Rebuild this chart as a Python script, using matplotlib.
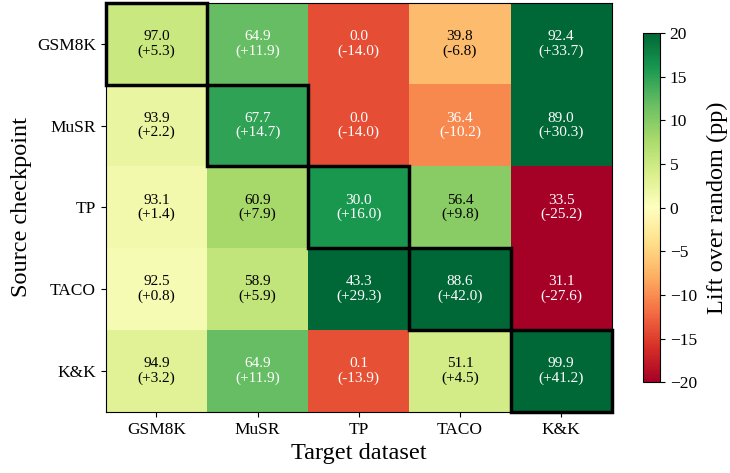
import matplotlib.pyplot as plt
from matplotlib.patches import Rectangle
import numpy as np

plt.rcParams['font.family'] = ['Liberation Serif', 'DejaVu Serif']
plt.rcParams['mathtext.fontset'] = 'stix'

sources = ['GSM8K', 'MuSR', 'TP', 'TACO', 'K&K']
targets = ['GSM8K', 'MuSR', 'TP', 'TACO', 'K&K']

# accuracy (%) por fila = checkpoint de origen
acc = np.array([
    [97.0, 64.9, 0.0, 39.8, 92.4],
    [93.9, 67.7, 0.0, 36.4, 89.0],
    [93.1, 60.9, 30.0, 56.4, 33.5],
    [92.5, 58.9, 43.3, 88.6, 31.1],
    [94.9, 64.9, 0.1, 51.1, 99.9],
])

# mejora sobre random (pp)
lift = np.array([
    [5.3, 11.9, -14.0, -6.8, 33.7],
    [2.2, 14.7, -14.0, -10.2, 30.3],
    [1.4, 7.9, 16.0, 9.8, -25.2],
    [0.8, 5.9, 29.3, 42.0, -27.6],
    [3.2, 11.9, -13.9, 4.5, 41.2],
])

fig = plt.figure(figsize=(7.3, 4.73), dpi=100)
ax = fig.add_axes([0.145, 0.129, 0.693, 0.865])
cax = fig.add_axes([0.881, 0.192, 0.023, 0.738])

im = ax.imshow(lift, cmap='RdYlGn', vmin=-20, vmax=20, aspect='auto')

for i in range(len(sources)):
    for j in range(len(targets)):
        col = 'white' if abs(lift[i, j]) > 10 else 'black'
        ax.text(j, i, f'{acc[i, j]:.1f}\n({lift[i, j]:+.1f})', ha='center', va='center',
                color=col, fontsize=11, linespacing=1.1)

for k in range(len(sources)):
    ax.add_patch(Rectangle((k - 0.5, k - 0.5), 1, 1, fill=False, edgecolor='black',
                           linewidth=2.5, clip_on=False, zorder=3))

ax.set_xticks(range(len(targets)))
ax.set_xticklabels(targets, fontsize=12.5)
ax.set_yticks(range(len(sources)))
ax.set_yticklabels(sources, fontsize=12.5)
ax.set_xlabel('Target dataset', fontsize=17.5)
ax.set_ylabel('Source checkpoint', fontsize=17.5)

cb = fig.colorbar(im, cax=cax)
cb.set_ticks([-20, -15, -10, -5, 0, 5, 10, 15, 20])
cb.ax.tick_params(labelsize=12.5)
cb.set_label('Lift over random (pp)', fontsize=17.5, labelpad=7)

fig.savefig('out.png', dpi=100)
